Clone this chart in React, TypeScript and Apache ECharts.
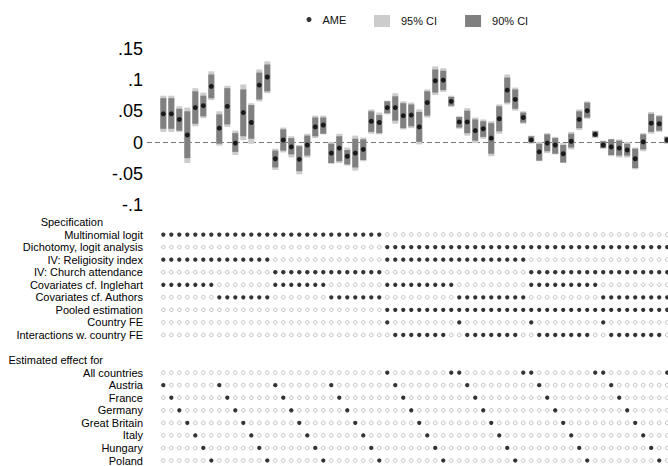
import React, { useEffect, useRef } from "react";
import * as echarts from "echarts";

// ---- Data ----
const ame = [
  0.046, 0.046, 0.037, 0.012, 0.056, 0.059, 0.090, 0.023, 0.058, -0.001, 0.048, 0.032, 0.092, 0.105, -0.026,
  0.004, -0.007, -0.027, -0.004, 0.025, 0.028, -0.017, -0.009, -0.022, -0.017, -0.011, 0.034, 0.032,
  0.056, 0.056, 0.043, 0.044, 0.025, 0.064, 0.099, 0.100, 0.066, 0.033, 0.033, 0.019, 0.022, 0.007, 0.038, 0.084, 0.069, 0.040,
  0.004, -0.015, -0.001, -0.004, -0.018, 0.002, 0.037, 0.051, 0.013, -0.004, -0.007, -0.009, -0.012, -0.026, 0.001, 0.031, 0.030, 0.004,
];
const hi90 = [
  0.071, 0.071, 0.054, 0.050, 0.082, 0.075, 0.109, 0.045, 0.087, 0.015, 0.085, 0.060, 0.112, 0.125, -0.013,
  0.021, 0.007, -0.006, 0.011, 0.040, 0.040, -0.002, 0.010, -0.012, 0.006, 0.005, 0.050, 0.044,
  0.066, 0.074, 0.063, 0.061, 0.049, 0.082, 0.117, 0.115, 0.073, 0.041, 0.051, 0.037, 0.034, 0.031, 0.058, 0.104, 0.085, 0.048,
  0.010, -0.002, 0.013, 0.007, -0.004, 0.014, 0.050, 0.064, 0.018, 0.002, 0.005, 0.003, -0.002, -0.010, 0.013, 0.046, 0.042, 0.009,
];
const lo90 = [
  0.022, 0.022, 0.019, -0.025, 0.030, 0.042, 0.071, -0.002, 0.029, -0.015, 0.010, 0.006, 0.069, 0.082, -0.040,
  -0.013, -0.019, -0.046, -0.021, 0.010, 0.014, -0.033, -0.030, -0.035, -0.040, -0.028, 0.017, 0.015,
  0.047, 0.035, 0.023, 0.026, 0.001, 0.043, 0.080, 0.084, 0.059, 0.024, 0.015, 0.003, 0.009, -0.018, 0.018, 0.064, 0.054, 0.032,
  0.000, -0.029, -0.014, -0.018, -0.032, -0.008, 0.023, 0.040, 0.009, -0.009, -0.020, -0.021, -0.021, -0.041, -0.011, 0.017, 0.019, -0.001,
];
const hi95 = [
  0.075, 0.075, 0.058, 0.056, 0.087, 0.080, 0.114, 0.050, 0.091, 0.019, 0.093, 0.063, 0.117, 0.130, -0.010,
  0.024, 0.010, -0.004, 0.014, 0.043, 0.043, 0.001, 0.014, -0.008, 0.011, 0.008, 0.053, 0.048,
  0.067, 0.079, 0.066, 0.064, 0.053, 0.085, 0.122, 0.119, 0.075, 0.042, 0.055, 0.040, 0.037, 0.034, 0.061, 0.109, 0.088, 0.050,
  0.011, 0.001, 0.015, 0.009, -0.001, 0.017, 0.053, 0.066, 0.019, 0.003, 0.006, 0.005, 0.001, -0.008, 0.015, 0.049, 0.044, 0.010,
];
const lo95 = [
  0.017, 0.017, 0.017, -0.033, 0.026, 0.039, 0.068, -0.005, 0.025, -0.020, 0.004, -0.002, 0.066, 0.079, -0.044,
  -0.016, -0.024, -0.051, -0.024, 0.007, 0.013, -0.034, -0.033, -0.037, -0.045, -0.030, 0.014, 0.013,
  0.045, 0.030, 0.021, 0.023, -0.003, 0.040, 0.076, 0.081, 0.057, 0.022, 0.011, -0.001, 0.006, -0.022, 0.014, 0.061, 0.051, 0.030,
  -0.002, -0.030, -0.017, -0.019, -0.033, -0.011, 0.020, 0.038, 0.007, -0.010, -0.022, -0.024, -0.024, -0.043, -0.014, 0.014, 0.017, -0.002,
];

const yTicks = [-0.1, -0.05, 0, 0.05, 0.1, 0.15];

const specHeader = "Specification";
const specLabels = [
  "Multinomial logit",
  "Dichotomy, logit analysis",
  "IV: Religiosity index",
  "IV: Church attendance",
  "Covariates cf. Inglehart",
  "Covariates cf. Authors",
  "Pooled estimation",
  "Country FE",
  "Interactions w. country FE",
];
const specMatrix = [
  "1111111 1111111 1111111 1111111 000000000 000000000 000000000 000000000",
  "0000000 0000000 0000000 0000000 111111111 111111111 111111111 111111111",
  "1111111 1111111 0000000 0000000 111111111 111111111 000000000 000000000",
  "0000000 0000000 1111111 1111111 000000000 000000000 111111111 111111111",
  "1111111 0000000 1111111 0000000 111111111 000000000 111111111 000000000",
  "0000000 1111111 0000000 1111111 000000000 111111111 000000000 111111111",
  "0000000 0000000 0000000 0000000 111111111 111111111 111111111 111111111",
  "0000000 0000000 0000000 0000000 100000000 100000000 100000000 100000000",
  "0000000 0000000 0000000 0000000 011111110 011111110 011111110 011111110",
];

const effectHeader = "Estimated effect for";
const effectLabels = ["All countries", "Austria", "France", "Germany", "Great Britain", "Italy", "Hungary", "Poland"];
const effectMatrix = [
  "0000000 0000000 0000000 0000000 100000001 100000001 100000001 100000001",
  "1000000 1000000 1000000 1000000 010000000 010000000 010000000 010000000",
  "0100000 0100000 0100000 0100000 001000000 001000000 001000000 001000000",
  "0010000 0010000 0010000 0010000 000100000 000100000 000100000 000100000",
  "0001000 0001000 0001000 0001000 000010000 000010000 000010000 000010000",
  "0000100 0000100 0000100 0000100 000001000 000001000 000001000 000001000",
  "0000010 0000010 0000010 0000010 000000100 000000100 000000100 000000100",
  "0000001 0000001 0000001 0000001 000000010 000000010 000000010 000000010",
];

// ---- Build the chart ----
const FONT = "'Liberation Sans', Arial, Helvetica, sans-serif";

const rowLabels: string[] = [];
const headerRows = new Set<number>();
rowLabels.push(specHeader);
headerRows.add(0);
specLabels.forEach((l) => rowLabels.push(l));
rowLabels.push("");
rowLabels.push(effectHeader);
headerRows.add(rowLabels.length - 1);
effectLabels.forEach((l) => rowLabels.push(l));

const allRows: { row: number; pattern: string }[] = [];
specMatrix.forEach((p, k) => allRows.push({ row: 1 + k, pattern: p.replace(/ /g, "") }));
effectMatrix.forEach((p, k) => allRows.push({ row: 12 + k, pattern: p.replace(/ /g, "") }));

const filledPts: number[][] = [];
const emptyPts: number[][] = [];
allRows.forEach(({ row, pattern }) => {
  for (let i = 0; i < pattern.length; i++) {
    if (pattern[i] === "1") filledPts.push([i, row]);
    else emptyPts.push([i, row]);
  }
});

const ci95 = ame.map((_, i) => [i, lo95[i], hi95[i]]);
const ci90 = ame.map((_, i) => [i, lo90[i], hi90[i]]);
const amePts = ame.map((v, i) => [i, v]);

function rectRenderer(color: string) {
  return (params: any, api: any) => {
    const i = api.value(0);
    const top = api.coord([i, api.value(2)]);
    const bot = api.coord([i, api.value(1)]);
    const w = 6;
    return {
      type: "rect",
      shape: { x: top[0] - w / 2, y: top[1], width: w, height: bot[1] - top[1] },
      style: { fill: color },
    };
  };
}

function fmtTick(v: number) {
  const r = Math.round(v * 100) / 100;
  if (r === 0) return "0";
  return String(r).replace("0.", ".");
}

const X_MIN = -2.04;
const X_MAX = 63.1;

export default function App() {
  const ref = useRef<HTMLDivElement>(null);
  useEffect(() => {
    if (!ref.current) return;
    const chart = echarts.init(ref.current, undefined, { renderer: "svg" });
    chart.setOption({
      animation: false,
      backgroundColor: "#ffffff",
      textStyle: { fontFamily: FONT },
      legend: [
        {
          data: [{ name: "AME", icon: "circle" }],
          left: 301.5,
          top: 9,
          itemWidth: 5,
          itemHeight: 5,
          textStyle: { fontSize: 11, color: "#111", fontFamily: FONT, padding: [0, 0, 0, 6] },
          selectedMode: false,
        },
        {
          data: [
            { name: "95% CI", icon: "rect" },
            { name: "90% CI", icon: "rect" },
          ],
          left: 369,
          top: 10,
          itemWidth: 16,
          itemHeight: 12,
          itemGap: 28,
          textStyle: { fontSize: 11, color: "#111", fontFamily: FONT, padding: [0, 0, 0, 6] },
          selectedMode: false,
        },
      ],
      grid: [
        { left: 147, right: 0, top: 48.9, height: 156 },
        { left: 147, right: 0, top: 222, height: 240.3 },
      ],
      xAxis: [
        { type: "value", gridIndex: 0, min: X_MIN, max: X_MAX, show: false },
        { type: "value", gridIndex: 1, min: X_MIN, max: X_MAX, show: false },
      ],
      yAxis: [
        {
          type: "value",
          gridIndex: 0,
          min: yTicks[0],
          max: yTicks[yTicks.length - 1],
          interval: 0.05,
          axisLine: { show: false },
          axisTick: { show: false },
          splitLine: { show: false },
          axisLabel: {
            fontSize: 18,
            color: "#000",
            margin: 4,
            padding: [3, 0, 0, 0],
            fontFamily: FONT,
            formatter: (v: number) => fmtTick(v),
          },
        },
        {
          type: "value",
          gridIndex: 1,
          inverse: true,
          min: 0,
          max: rowLabels.length - 1,
          interval: 1,
          axisLine: { show: false },
          axisTick: { show: false },
          splitLine: { show: false },
          axisLabel: {
            fontSize: 11,
            color: "#000",
            margin: 4,
            fontFamily: FONT,
            formatter: (v: number) => {
              const k = Math.round(v);
              const t = rowLabels[k] ?? "";
              if (headerRows.has(k)) return "{h|" + t + "}";
              return t;
            },
            rich: {
              h: { fontSize: 11, color: "#000", fontFamily: FONT, padding: [0, 40, 0, 0] },
            },
          },
        },
      ],
      series: [
        {
          name: "95% CI",
          type: "custom",
          xAxisIndex: 0,
          yAxisIndex: 0,
          itemStyle: { color: "#cccccc" },
          renderItem: rectRenderer("#cccccc"),
          data: ci95,
          clip: true,
          z: 1,
        },
        {
          name: "90% CI",
          type: "custom",
          xAxisIndex: 0,
          yAxisIndex: 0,
          itemStyle: { color: "#808080" },
          renderItem: rectRenderer("#808080"),
          data: ci90,
          clip: true,
          z: 2,
        },
        {
          name: "AME",
          type: "scatter",
          xAxisIndex: 0,
          yAxisIndex: 0,
          symbol: "circle",
          symbolSize: 5,
          itemStyle: { color: "#000" },
          data: amePts,
          z: 3,
          markLine: {
            silent: true,
            symbol: "none",
            label: { show: false },
            lineStyle: { type: [5, 3], color: "#777", width: 1 },
            data: [{ yAxis: 0 }],
            z: 0,
          },
        },
        {
          name: "selected",
          type: "scatter",
          xAxisIndex: 1,
          yAxisIndex: 1,
          symbol: "circle",
          symbolSize: 4.3,
          itemStyle: { color: "#000" },
          data: filledPts,
        },
        {
          name: "not selected",
          type: "scatter",
          xAxisIndex: 1,
          yAxisIndex: 1,
          symbol: "circle",
          symbolSize: 3.6,
          itemStyle: { color: "#fff", borderColor: "#a8a8a8", borderWidth: 0.9 },
          data: emptyPts,
        },
      ],
    });
    return () => chart.dispose();
  }, []);
  return (
    <div
      ref={ref}
      style={{ position: "absolute", left: 0, top: 0, width: 668, height: 466 }}
    />
  );
}
